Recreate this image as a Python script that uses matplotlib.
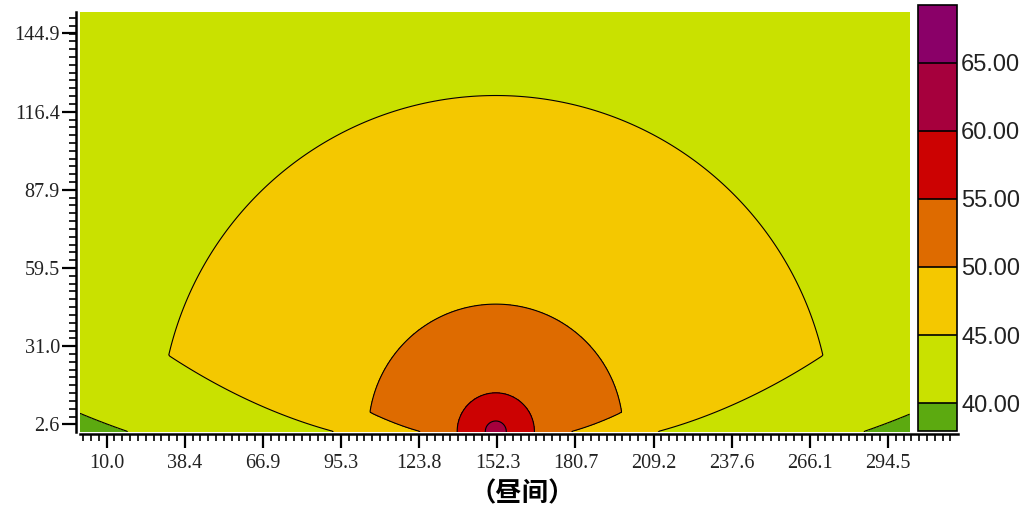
import numpy as np
import matplotlib
matplotlib.use("Agg")
import matplotlib.pyplot as plt
from matplotlib.ticker import FixedLocator

# ---------- section geometry (m) ----------
x_min, x_max = 0.3, 302.4      # computed section, horizontal
y_min, y_max = -0.3, 152.8     # computed section, height
x_src = 151.7                  # source position on the ground

# ---------- propagation parameters ----------
Lw = 65.0        # level at 1 m, dB(A)
k_div = 8.48     # geometric divergence, dB per decade
alpha = 0.0188   # air absorption, dB/m
h_src = 2.5      # source height used in the ground term

# colour bands (dB) and their colours
levels = [37.95, 40, 45, 50, 55, 60, 65, 69.24]
colors = ['#5caa10', '#c9e100', '#f4c800', '#de6b00', '#cc0202', '#a6003d', '#8a0068']

x_ticks = [10.0, 38.4, 66.9, 95.3, 123.8, 152.3, 180.7, 209.2, 237.6, 266.1, 294.5]
y_ticks = [2.6, 31.0, 59.5, 87.9, 116.4, 144.9]
cb_ticks = [40, 45, 50, 55, 60, 65]
step = 2.845     # minor tick step


# ---------- noise level over the section ----------
x = np.linspace(x_min, x_max, 700)
y = np.linspace(y_min, y_max, 360)
X, Y = np.meshgrid(x, y)
H = np.clip(Y, 0, None)
d = np.maximum(np.hypot(X - x_src, H), 1.0)

L_free = Lw - k_div * np.log10(d) - alpha * d
A_gr = 4.8 - ((h_src + H) / d) * (17 + 300 / d)     # ground attenuation
A_gr = np.clip(A_gr, 0, None)
L = np.clip(L_free - A_gr, levels[0], levels[-1])


# ---------- figure ----------
fig = plt.figure(figsize=(10.3, 5.13), dpi=100)
ax = fig.add_axes([80/1030, 1 - 432.3/513, 878/1030, 420.6/513])

cf = ax.contourf(X, Y, L, levels=levels, colors=colors)
ax.contour(X, Y, L, levels=levels[1:-1], colors='k', linewidths=0.8)

ax.set_xlim(x_min, 320.0)
ax.set_ylim(y_min, y_max)

for s in ['top', 'right']:
    ax.spines[s].set_visible(False)
ax.spines['left'].set_position(('outward', 3))
ax.spines['bottom'].set_position(('outward', 1.5))
for s in ['left', 'bottom']:
    ax.spines[s].set_linewidth(1.8)

ax.xaxis.set_major_locator(FixedLocator(x_ticks))
ax.yaxis.set_major_locator(FixedLocator(y_ticks))
ax.xaxis.set_minor_locator(FixedLocator(np.arange(x_ticks[0] - 3*step, 320.0, step)))
ax.yaxis.set_minor_locator(FixedLocator(np.arange(y_ticks[0], y_max, step)))
ax.set_xticklabels(['%.1f' % v for v in x_ticks])
ax.set_yticklabels(['%.1f' % v for v in y_ticks])

ax.tick_params(which='major', direction='out', length=10, width=1.6,
               labelsize=14.5, labelcolor='#222222')
ax.tick_params(axis='x', which='major', pad=4)
ax.tick_params(axis='y', which='major', pad=1.5)
ax.tick_params(which='minor', direction='out', length=5, width=1.2)
for lab in ax.get_xticklabels() + ax.get_yticklabels():
    lab.set_family('Liberation Serif')

# colour scale
cax = fig.add_axes([918/1030, 1 - 431/513, 39/1030, 426/513])
cb = fig.colorbar(cf, cax=cax, spacing='proportional', ticks=cb_ticks, drawedges=True)
cb.outline.set_linewidth(1.2)
cb.dividers.set_color('k')
cb.dividers.set_linewidth(1.2)
cb.ax.set_yticklabels(['%.2f' % v for v in cb_ticks])
cb.ax.tick_params(length=0, pad=3, labelsize=17, labelcolor='#222222')
for lab in cb.ax.get_yticklabels():
    lab.set_family('Liberation Sans')

fig.text(522/1030, 1 - 494/513, '（昼间）', ha='center', va='center',
         fontsize=19, weight='bold', family=['Noto Sans CJK SC', 'DejaVu Sans'])

plt.savefig('out.png')
